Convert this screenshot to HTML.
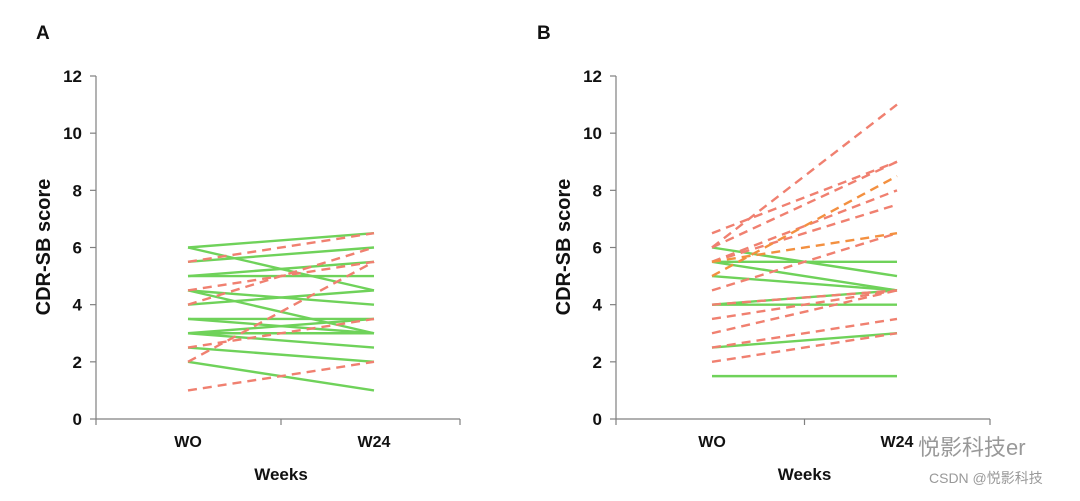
<!DOCTYPE html>
<html><head><meta charset="utf-8"><style>
html,body{margin:0;padding:0;background:#fff;}
svg text{font-family:"Liberation Sans","Noto Sans CJK SC",sans-serif;}
</style></head><body>
<svg id="chart" width="1080" height="496" viewBox="0 0 1080 496"></svg>
<script>
// Panel A data
const categories = ["WO", "W24"];
const yTicks = [0, 2, 4, 6, 8, 10, 12];
const aGreenStart = [6, 6, 5.5, 5, 5, 4.5, 4.5, 4, 3.5, 3.5, 3, 3, 3, 2.5, 2];
const aGreenEnd   = [6.5, 4.5, 6, 5, 5.5, 4, 3, 4.5, 3.5, 3, 3.5, 3, 2.5, 2, 1];
const aRedStart = [5.5, 4.5, 4, 2.5, 2, 1];
const aRedEnd   = [6.5, 5.5, 6, 3.5, 5.5, 2];
// Panel B data
const bGreenStart = [6, 5.5, 5.5, 5, 4, 4, 2.5, 1.5];
const bGreenEnd   = [5, 5.5, 4.5, 4.5, 4.5, 4, 3, 1.5];
const bRedStart = [6.5, 6, 6, 5.5, 5.5, 4.5, 4, 3.5, 3, 2.5, 2];
const bRedEnd   = [9, 11, 9, 8, 7.5, 6.5, 4.5, 4.5, 4.5, 3.5, 3];
const bOrangeStart = [5, 5.5];
const bOrangeEnd   = [8.5, 6.5];

const svg = document.getElementById('chart');
const NS = 'http://www.w3.org/2000/svg';
function mk(tag, attrs, parent){const e=document.createElementNS(NS,tag);for(const k in attrs)e.setAttribute(k,attrs[k]);(parent||svg).appendChild(e);return e;}
const Y0 = 419, Y12 = 76;
function yScale(v){return Y0 - (v/12)*(Y0-Y12);}

function panel(cfg){
  const g = mk('g',{});
  
  
  const xs = [cfg.xWO, cfg.xW24];
  const ya = mk('line',{x1:cfg.ax,y1:Y12,x2:cfg.ax,y2:Y0,stroke:'#808080','stroke-width':1.2},g);
  
  
  const xa = mk('line',{x1:cfg.ax,y1:Y0,x2:cfg.axEnd,y2:Y0,stroke:'#808080','stroke-width':1.2},g);
  
  
  [cfg.ax,(xs[0]+xs[1])/2,cfg.axEnd].forEach(x=>{
    const t=mk('line',{x1:x,y1:Y0,x2:x,y2:Y0+6,stroke:'#808080','stroke-width':1.2},g);
    
    
  });
  yTicks.forEach(v=>{
    const t=mk('line',{x1:cfg.ax-6,y1:yScale(v),x2:cfg.ax,y2:yScale(v),stroke:'#808080','stroke-width':1.2},g);
    
    
    const l=mk('text',{x:cfg.ax-14,y:yScale(v)+6,'text-anchor':'end','font-size':17,'font-weight':'bold',fill:'#111'},g);
    l.textContent=v;
    
    
  });
  categories.forEach((c,i)=>{
    const l=mk('text',{x:xs[i],y:447,'text-anchor':'middle','font-size':16,'font-weight':'bold',fill:'#111'},g);
    l.textContent=c;
    
    
  });
  const xt=mk('text',{x:(xs[0]+xs[1])/2,y:480,'text-anchor':'middle','font-size':17,'font-weight':'bold',fill:'#111'},g);
  xt.textContent='Weeks';
  
  
  const yt=mk('text',{x:0,y:0,'text-anchor':'middle','font-size':20,'font-weight':'bold',fill:'#111',transform:`translate(${cfg.ax-46},247) rotate(-90)`},g);
  yt.textContent='CDR-SB score';
  
  
  const pl=mk('text',{x:cfg.letterX,y:39,'font-size':19,'font-weight':'bold',fill:'#111'},g);
  pl.textContent=cfg.letter;
  
  
  cfg.series.forEach(s=>{
    s.start.forEach((v,i)=>{
      const ln=mk('line',{x1:xs[0],y1:yScale(v),x2:xs[1],y2:yScale(s.end[i]),stroke:s.color,'stroke-width':2.4,'stroke-dasharray':s.dash||'none'},g);
      
      
    });
  });
}
panel({name:'panel-a',letter:'A',letterX:36,ax:96,axEnd:460,xWO:188,xW24:374,series:[
  {name:'green-line',color:'#6fd25a',start:aGreenStart,end:aGreenEnd},
  {name:'red-dashed-line',color:'#f08070',dash:'9 6',start:aRedStart,end:aRedEnd}]});
panel({name:'panel-b',letter:'B',letterX:537,ax:616,axEnd:990,xWO:712,xW24:897,series:[
  {name:'green-line',color:'#6fd25a',start:bGreenStart,end:bGreenEnd},
  {name:'red-dashed-line',color:'#f08070',dash:'9 6',start:bRedStart,end:bRedEnd},
  {name:'orange-dashed-line',color:'#f39040',dash:'9 6',start:bOrangeStart,end:bOrangeEnd}]});
const w1=mk('text',{x:918,y:455,'font-size':22,fill:'#999'});
w1.textContent='悦影科技er';


const w2=mk('text',{x:929,y:483,'font-size':14,fill:'#999'});
w2.textContent='CSDN @悦影科技';


</script>
</body></html>
